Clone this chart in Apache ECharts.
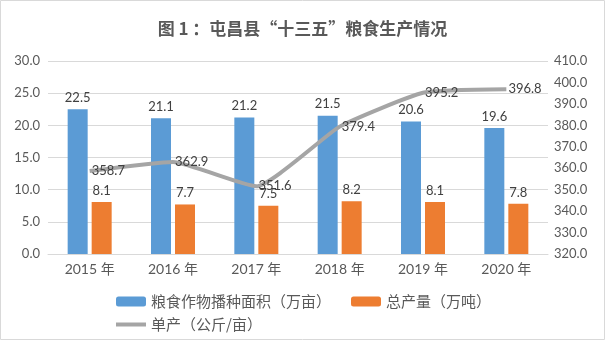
<!DOCTYPE html>
<html><head><meta charset="utf-8">
<script src="https://cdn.jsdelivr.net/npm/echarts@6/dist/echarts.min.js"></script>
<style>html,body{margin:0;padding:0;background:#fff}#c{width:605px;height:340px}</style>
</head><body><div id="c"></div>
<script>
var categories = ['2015 年','2016 年','2017 年','2018 年','2019 年','2020 年'];
var areaValues = [22.5, 21.1, 21.2, 21.5, 20.6, 19.6];
var outputValues = [8.1, 7.7, 7.5, 8.2, 8.1, 7.8];
var yieldValues = [358.7, 362.9, 351.6, 379.4, 395.2, 396.8];
var seriesNames = ['粮食作物播种面积（万亩）','总产量（万吨）','单产（公斤/亩）'];
var titleText = '图 1 ：屯昌县“十三五”粮食生产情况';

var FONT = 'Lato, "Noto Sans CJK SC", sans-serif';
var TXT = '#595959';
var chart = echarts.init(document.getElementById('c'));
chart.setOption({
  animation: false,
  textStyle: {fontFamily: FONT},
  title: {text: titleText, left: 'center', top: 15,
    textStyle: {fontFamily: '"Noto Sans CJK SC", sans-serif', fontSize: 17, fontWeight: 'bold', color: TXT}},
  graphic: [{type: 'rect', shape: {x: 0.5, y: 0.5, width: 604, height: 339},
    style: {fill: 'none', stroke: '#D9D9D9', lineWidth: 1}, z: -1}],
  grid: {left: 48, right: 57, top: 61, bottom: 86},
  legend: [
    {data: [seriesNames[0], seriesNames[1]], left: 111, top: 289, itemWidth: 30, itemHeight: 10, itemGap: 20,
      textStyle: {fontFamily: '"Noto Sans CJK SC", sans-serif', fontSize: 15, color: TXT}},
    {data: [{name: seriesNames[2], icon: 'rect'}], left: 111, top: 312, itemWidth: 30, itemHeight: 4,
      textStyle: {fontFamily: '"Noto Sans CJK SC", sans-serif', fontSize: 15, color: TXT}}
  ],
  xAxis: {type: 'category', data: categories,
    axisLine: {lineStyle: {color: '#D9D9D9'}}, axisTick: {show: false},
    axisLabel: {color: TXT, fontSize: 14, margin: 8, fontFamily: FONT}},
  yAxis: [
    {type: 'value', min: 0, max: 30, interval: 5,
      axisLabel: {formatter: function(v){return v.toFixed(1);}, color: TXT, fontSize: 13, margin: 8},
      splitLine: {lineStyle: {color: '#D9D9D9'}}, axisLine: {show: false}, axisTick: {show: false}},
    {type: 'value', min: 320, max: 410, interval: 10,
      axisLabel: {formatter: function(v){return v.toFixed(1);}, color: TXT, fontSize: 13, margin: 6},
      splitLine: {show: false}, axisLine: {show: false}, axisTick: {show: false}}
  ],
  series: [
    {name: seriesNames[0], type: 'bar', data: areaValues, barWidth: 20, barGap: '20%',
      itemStyle: {color: '#5B9BD5'},
      label: {show: true, position: 'top', distance: 5, color: '#404040', fontSize: 13,
        formatter: function(p){return p.value.toFixed(1);}}},
    {name: seriesNames[1], type: 'bar', data: outputValues, barWidth: 20,
      itemStyle: {color: '#ED7D31'},
      label: {show: true, position: 'top', distance: 5, color: '#404040', fontSize: 13,
        formatter: function(p){return p.value.toFixed(1);}}},
    {name: seriesNames[2], type: 'line', yAxisIndex: 1, data: yieldValues, smooth: 0.15,
      symbol: 'circle', symbolSize: 0.1, showSymbol: true,
      lineStyle: {color: '#A5A5A5', width: 4}, itemStyle: {color: '#A5A5A5'},
      label: {show: true, position: 'right', distance: 2, color: '#404040', fontSize: 13,
        formatter: function(p){return p.value.toFixed(1);}}, z: 5}
  ]
});
</script></body></html>
